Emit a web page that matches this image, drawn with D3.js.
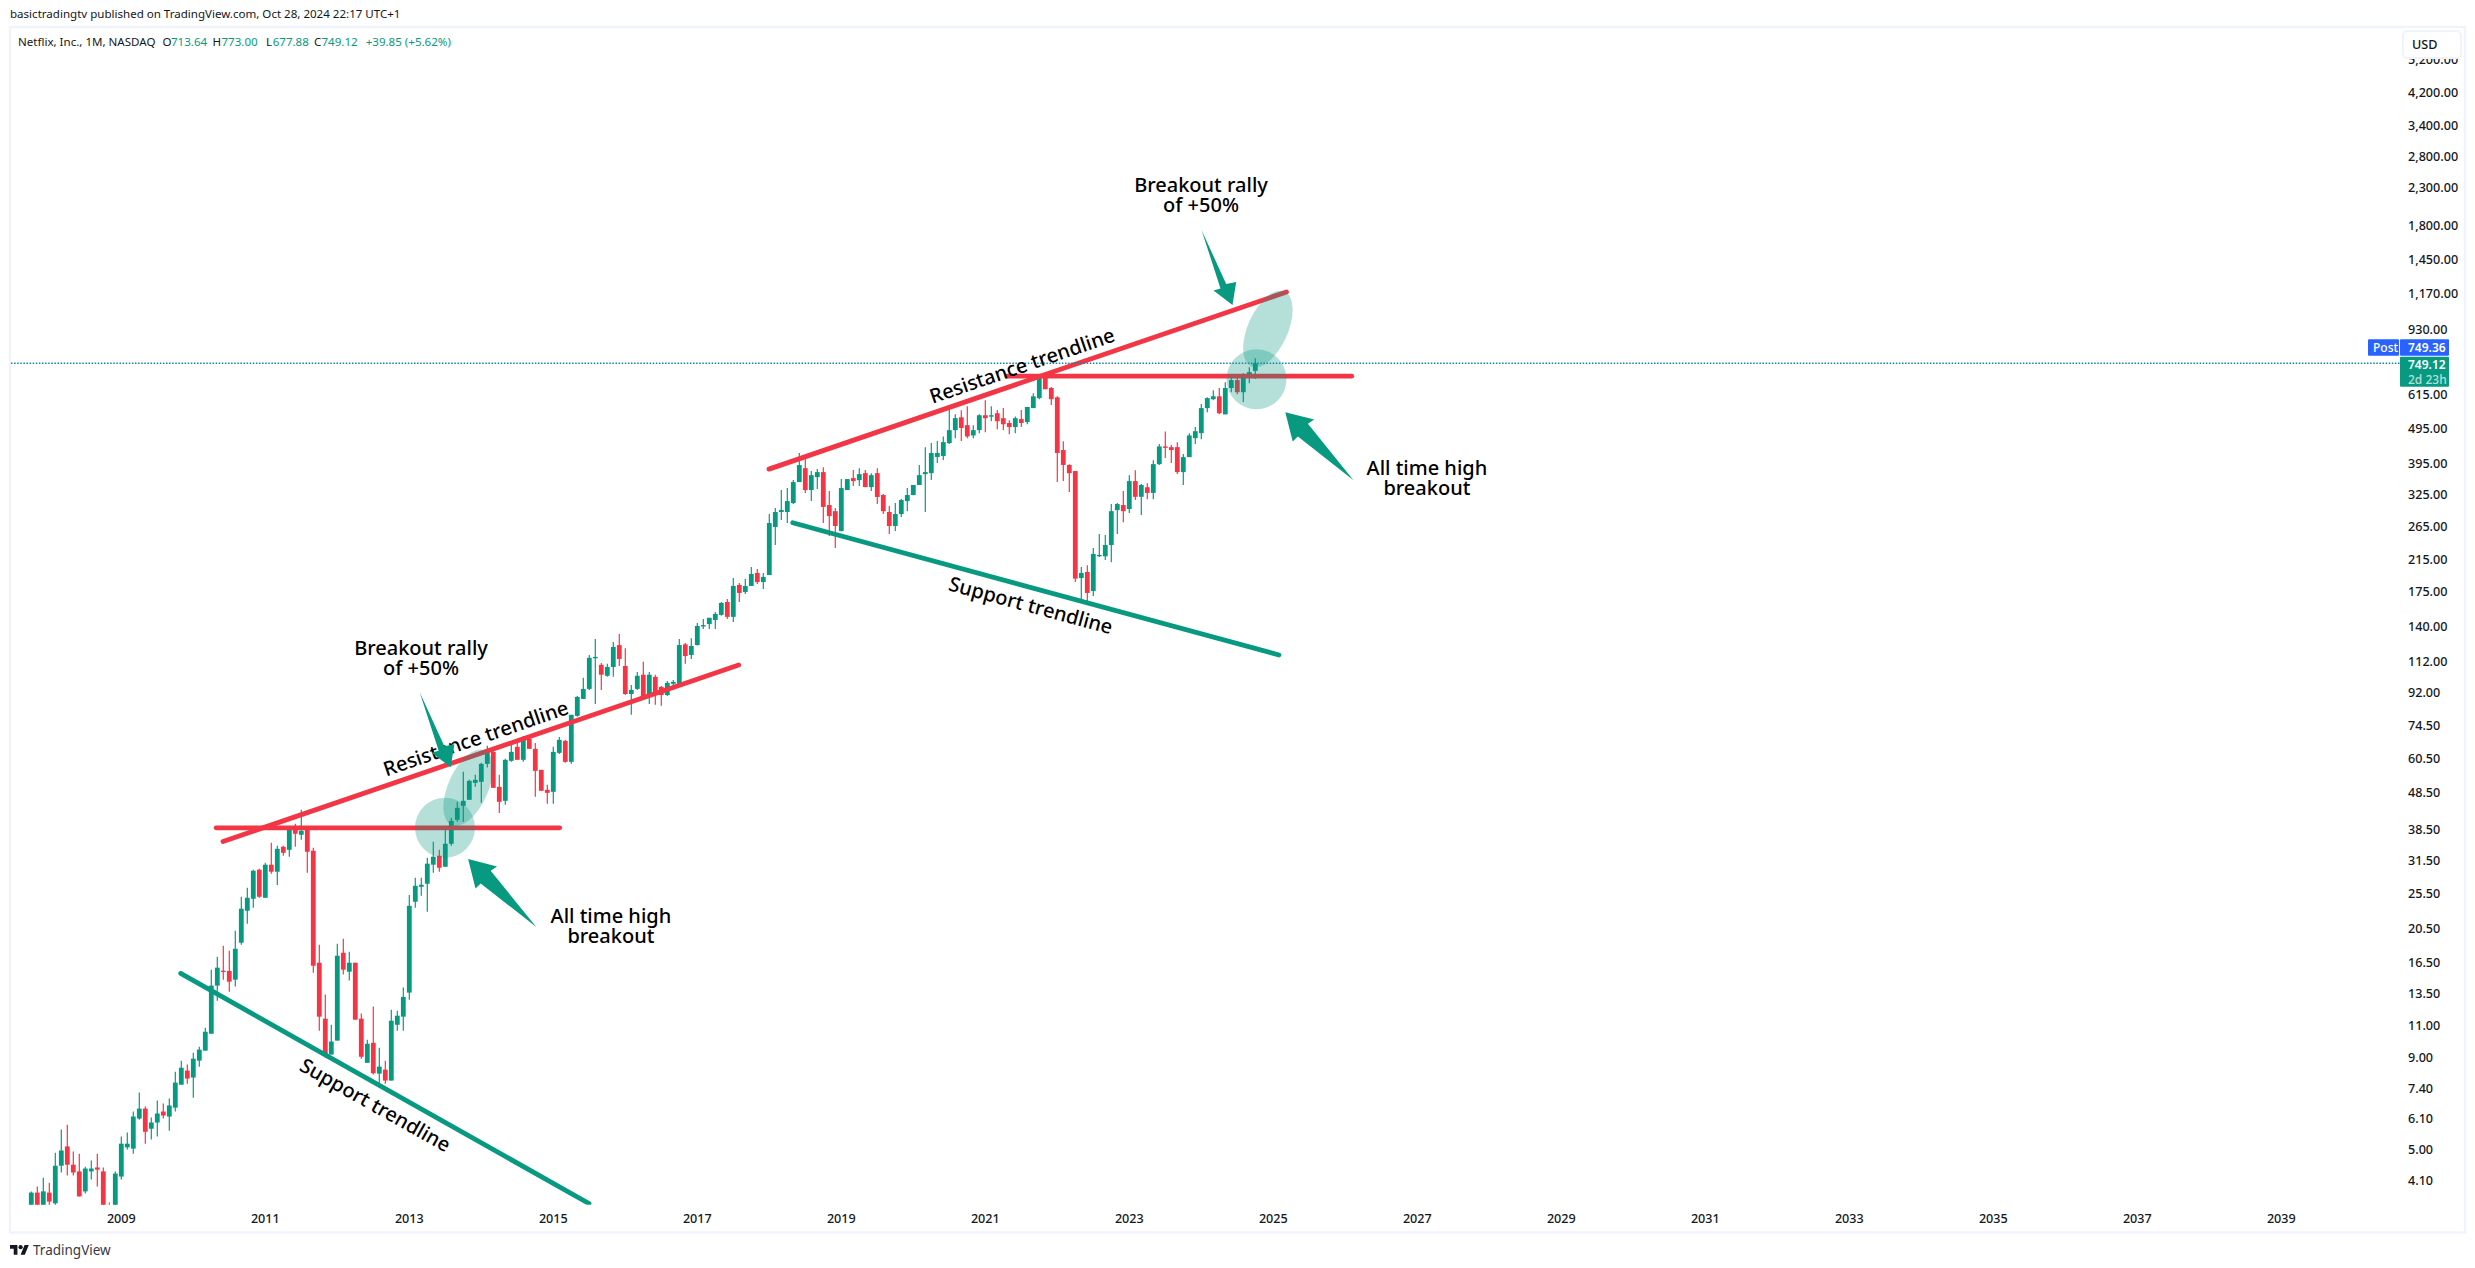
<!DOCTYPE html>
<html><head><meta charset="utf-8">
<script src="https://cdn.jsdelivr.net/npm/d3@7/dist/d3.min.js"></script>
<style>html,body{margin:0;padding:0;background:#fff;overflow:hidden}svg{display:block}text{font-family:"Noto Sans",sans-serif}</style>
</head><body><svg id="c" width="2475" height="1268"></svg>
<script>
// Monthly candles, Oct 2007 .. Oct 2024
const opens=[3.2,3.80,3.45,3.80,3.55,4.51,5.10,4.54,4.35,3.83,
4.35,4.46,4.35,3.40,3.2,4.21,5.07,5.03,6.09,6.49,
5.71,5.94,6.37,6.17,6.53,7.56,8.27,7.91,8.81,9.39,
10.46,14.21,15.63,15.6,14.76,18.68,22.89,24.71,29.73,24.87,
30.70,29.36,34.41,33.76,38.84,37.15,38.35,33.55,16.44,11.51,
9.16,10.01,17.52,15.53,16.44,11.51,8.69,9.87,8.11,8.32,
7.76,11.07,11.66,13.59,24.25,26.67,27.19,30.7,32.5,30.3,
35.08,40.87,44.67,46.42,51.72,52.05,58.37,63.0,50.42,46.12,
59.5,65.05,59.88,68.43,64.22,56.18,49.47,48.84,62.6,67.57,
59.12,79.25,88.28,94.1,114.7,109.7,102.3,108.2,124.4,108.9,
91.1,94.1,103,90.5,101.6,95.3,90.5,97.2,97.2,125,
116.8,124.4,140.4,142.2,146,150.8,163.7,148.9,182.5,174.5,
181.3,197,185.9,194.4,264,290.4,290.4,307.5,351.4,384,
334,362.7,374.5,303.6,292,257.2,334,360.5,355.9,372,
340.4,372,323.6,290.4,265.7,286.7,311.4,323.6,345,369.7,
372,412.4,415.1,450.5,489.3,530.9,505,473,489.3,538,
534,545,528,512,499,525,515,563,600,690,
640,603,431,392,377,190.7,198.2,175.6,219.6,219,
235.3,294,303.6,296,353.6,320,340,328,394,441,
439,439,374.5,412,465,480,563,596,607,541,
640,673,623,699,713.64];
const highs=[3.83,3.95,4.18,4.05,4.90,5.68,5.86,4.94,4.87,4.48,
4.66,4.87,4.46,3.57,4.35,5.43,5.57,6.37,7.19,6.58,
6.13,6.83,6.70,6.92,8.21,8.81,8.59,9.27,9.63,10.86,
15.73,17.08,18.32,17.75,20.16,25.03,26.5,29.73,29.92,31.08,
35.3,34.63,34.63,38.84,39.84,43.55,39.3,34.19,18.44,13.42,
11.07,18.56,19.16,17.64,16.44,11.89,10.07,12.43,9.57,8.81,
12.19,12.11,14.03,25.3,28.25,28.25,32.09,35.53,33.76,38.35,
41.39,45.83,55.47,52.72,54.42,58.74,65.47,63.81,54.42,60.26,
66.7,66.7,69.75,69.3,66.7,56.18,51.07,65.05,69.3,68.0,
79.76,89.96,101,116.8,129.3,111,110.4,126.9,133.6,122,
96.5,104.8,111.8,104.8,103,95.9,99,99.6,129.3,126,
130,143.2,147,148,153.6,163.7,166.9,190.7,184.7,189.5,
204.6,202,197,286.7,297.8,334,338.3,355.9,422.8,409.5,
376.9,381.7,386.5,331.8,298,358.2,358.2,379.3,384,379.3,
372,384,325.7,301.6,307.5,315.4,338.3,345,391.6,439,
450.8,456.3,470,573,541,555.8,570,505,541,592,
570,556,563,521.5,534,556,567,619,695,700,
644,607,456,394,377,204.6,207,231,252.4,250.8,
305.5,307.5,331.8,367,379,347,349,404,448,485,
445,453,420,480,499,578,603,631,640,664,
690,686,703,730,773];
const lows=[3.0,3.3,3.3,3.50,3.50,4.32,4.24,4.24,3.71,3.78,
4.13,3.95,3.1,3.0,3.0,4.13,5.00,4.87,6.05,5.19,
5.33,5.43,6.09,5.64,6.37,7.56,7.61,6.96,8.48,9.39,
10.46,12.91,14.76,13.67,14.12,18.44,21.07,23.34,24.87,24.87,
28.99,26.99,32.51,32.3,34.41,35.98,29.17,15.43,10.66,8.98,
9.16,10.01,15.25,14.67,11.44,8.92,8.69,8.06,7.56,7.61,
7.76,10.66,10.66,12.99,23.34,25.2,22.74,29.17,29.36,30.3,
34.63,40.35,40.35,46.42,50.42,45.54,57.0,50.1,42.7,44.97,
59.12,59.88,59.12,64.22,47.31,49.16,45.25,45.25,62.2,58.74,
58.37,78.75,88.28,93.49,85.5,93.49,101.6,101.6,108.9,90.5,
79.76,93.49,88.8,85.5,85,84.5,90,93.49,97.2,110.4,
113.9,124,137.8,137.8,137.8,149.9,147,144.1,163.7,172.3,
181.3,183.5,177.8,194.4,235.3,275.9,270.7,305.5,351.4,327.7,
311.4,336.1,270.7,249.2,231,257,334,342.6,342.6,340,
331.8,305.5,286.7,252.4,257.2,281.2,292,323,345,290.4,
355.9,396.7,404.3,447.9,465,456.3,465,465,480,483,
518,492,489,477,480,499,508,563,596,635,
574,351.4,353.6,329.8,186,165.8,164.7,170,218,213.9,
211,252.4,272,288.5,313.4,285,315,315,392,409.5,
397,370,345,412,448,462,548,592,541,541,
623,615,585,660,677.88];
const closes=[3.80,3.4,3.83,3.59,4.51,4.97,4.54,4.32,3.71,4.43,
4.43,4.40,3.3,3.2,4.29,5.19,5.19,6.17,6.49,5.60,
5.94,6.29,6.21,6.62,7.66,8.42,7.86,8.92,9.45,10.59,
14.21,15.93,15.53,14.57,17.97,23.19,24.87,29.54,25.03,30.70,
29.36,33.97,33.12,38.84,37.39,38.1,33.33,16.13,11.66,9.16,
9.95,17.19,15.73,16.44,11.44,9.03,9.81,8.13,8.48,7.76,
11.36,11.73,13.22,23.62,26.84,27.02,30.9,32.3,30.11,35.08,
40.6,44.1,46.12,52.38,52.72,58.37,63.81,50.1,45.83,59.88,
63.0,59.88,68.43,64.22,55.82,49.16,48.53,63.0,68.0,59.12,
79.76,89.39,94.1,114.7,115.4,103,108.2,122.9,113.9,91.1,
93.49,102.3,89.39,103,90.5,90.5,97.8,98.4,124.4,116,
123.7,140.5,141.3,148,151.7,162.7,148.9,181.3,173.4,181.3,
195.7,185.9,192.1,270.7,290.4,294.1,311.4,351.4,391.6,334,
367.3,374.5,300,283,265.7,338.3,358.2,353.6,369.7,340.4,
367.3,319.6,292,265.7,286.7,313.4,323.6,345,367.3,374.5,
423,423,453.4,489.3,528.2,496,470,489.3,538,528,
538,518,508,499,528,512,567,607,690,635,
596,423,392,372,190,197,173.4,222.3,221,235.3,
292,305.5,292,353.6,320,345,328,394,441,439,
431,374.5,412,473,486,563,600,607,545,640,
673,623,699,708,749.12];
const priceTicks=[5200,4200,3400,2800,2300,1800,1450,1170,930,615,495,395,325,265,215,175,140,112,92,74.5,60.5,48.5,38.5,31.5,25.5,20.5,16.5,13.5,11,9,7.4,6.1,5,4.1];
const yearTicks=[2009,2011,2013,2015,2017,2019,2021,2023,2025,2027,2029,2031,2033,2035,2037,2039];
const firstBarYear=2007, firstBarMonth=9;
// Drawings in chart units: [bar index, price]
const resistanceLines=[[[31.95,35.59],[117.9,109.6]],[[122.95,381.7],[209.2,1180]]];
const athLines=[[[30.8,38.84],[88.07,38.84]],[[162.6,690],[220.07,690]]];
const supportLines=[[[24.9,15.36],[92.95,3.545]],[[126.9,271.2],[207.95,116.8]]];
const circleCentres=[[68.95,38.84],[204.2,677]];
const ellipseCentres=[[72.8,50.1],[206.1,932]];
const downArrowTips=[[69.9,57.15],[200.2,1086.6]];
const upArrowTips=[[72.8,31.82],[209,548.7]];
const rallyLabels=[[64.95,122.1],[194.95,2333]];
const athLabels=[[96.6,22.2],[232.6,384.2]];
const resistanceLabels=[[74.07,68.87,-18.9],[165.1,740,-18.9]];
const supportLabels=[[57.37,6.658,29.4],[166.6,160.6,15.2]];

const UP="#089981",DOWN="#F23645",INK="#131722";
const svg=d3.select("#c");
const x=d3.scaleLinear().domain([0,204]).range([31.3,1255.3]);
const y=d3.scaleLog().domain([4200,4.1]).range([92.7,1180.7]);
const bars=opens.map((o,i)=>({i,o,h:highs[i],l:lows[i],c:closes[i]}));

svg.append("clipPath").attr("id","pane").append("rect").attr("x",10).attr("y",27).attr("width",2392).attr("height",1177.7);

// frame
svg.append("rect").attr("x",10).attr("y",27).attr("width",2455).attr("height",1205.5).attr("fill","#fff").attr("stroke","#f0f3fa").attr("stroke-width",2.4);

const pane=svg.append("g").attr("clip-path","url(#pane)");
const cg=pane.append("g");
const col=d=>d.c>=d.o?UP:DOWN;
cg.selectAll("line").data(bars).join("line")
 .attr("x1",d=>x(d.i)).attr("x2",d=>x(d.i)).attr("y1",d=>y(d.h)).attr("y2",d=>y(d.l))
 .attr("stroke",col).attr("stroke-width",1.2);
cg.selectAll("rect").data(bars).join("rect")
 .attr("x",d=>x(d.i)-2.4).attr("width",4.8)
 .attr("y",d=>Math.min(y(d.o),y(d.c))).attr("height",d=>Math.max(1.4,Math.abs(y(d.o)-y(d.c))))
 .attr("fill",col);

// last price line
const lastY=y(closes[closes.length-1]);
svg.append("line").attr("x1",11).attr("x2",2400).attr("y1",lastY).attr("y2",lastY).attr("stroke","#1183ad").attr("stroke-width",1.5).attr("stroke-dasharray","1.5 1.6");

const seg=(arr,color)=>pane.append("g").selectAll("line").data(arr).join("line")
 .attr("x1",d=>x(d[0][0])).attr("y1",d=>y(d[0][1])).attr("x2",d=>x(d[1][0])).attr("y2",d=>y(d[1][1]))
 .attr("stroke",color).attr("stroke-width",4.8).attr("stroke-linecap","round");

// rotated labels sit beneath the lines and arrows
const rot=(arr,t)=>svg.append("g").selectAll("text").data(arr).join("text")
 .attr("transform",d=>`translate(${x(d[0])},${y(d[1])}) rotate(${d[2]})`)
 .attr("text-anchor","middle").attr("dominant-baseline","central")
 .attr("font-size",20).attr("font-weight",500).attr("fill","#000").text(t);
rot(resistanceLabels,"Resistance trendline");
rot(supportLabels,"Support trendline");

seg(resistanceLines,DOWN);seg(athLines,DOWN);seg(supportLines,UP);

// highlight zones
const zone=svg.append("g").attr("fill","#089981").attr("fill-opacity",.3);
zone.selectAll("circle").data(circleCentres).join("circle").attr("cx",d=>x(d[0])).attr("cy",d=>y(d[1])).attr("r",30);
zone.selectAll("ellipse").data(ellipseCentres).join("ellipse")
 .attr("rx",20).attr("ry",41)
 .attr("transform",d=>`translate(${x(d[0])},${y(d[1])}) rotate(24)`);

// arrows (shape relative to tip)
const downShape=[[0,0],[3.7,-23],[-6.3,-21],[-31,-75],[-12,-16.5],[-19,-14.3]];
const upShape=[[0,0],[28.9,7.3],[22.6,11.7],[68.2,68],[12.6,24.3],[7.4,29.4]];
const arrows=(tips,shape)=>svg.append("g").selectAll("polygon").data(tips).join("polygon")
 .attr("points",d=>shape.map(s=>[x(d[0])+s[0],y(d[1])+s[1]].join(",")).join(" "))
 .attr("fill",UP);
arrows(downArrowTips,downShape);arrows(upArrowTips,upShape);

// two-line labels: one text element, two tspans
const two=(arr,a,b)=>{
 const t=svg.append("g").attr("text-anchor","middle").attr("font-size",20).attr("font-weight",500).attr("fill","#000")
  .selectAll("text").data(arr).join("text");
 t.append("tspan").attr("x",d=>x(d[0])).attr("y",d=>y(d[1])+7).text(a);
 t.append("tspan").attr("x",d=>x(d[0])).attr("y",d=>y(d[1])+27).text(b);};
two(rallyLabels,"Breakout rally","of +50%");
two(athLabels,"All time high","breakout");

// price axis labels
const fmt=d3.format(",.2f");
svg.append("g").attr("font-size",12.6).attr("font-weight",500).attr("fill",INK).selectAll("text").data(priceTicks).join("text")
 .attr("x",2408).attr("y",d=>y(d)).attr("dominant-baseline","central").text(fmt);
// time axis labels: uniform bars, one per month
const barOf=yr=>(yr-firstBarYear)*12-firstBarMonth;
svg.append("g").attr("font-size",12.6).attr("font-weight",500).attr("fill",INK).attr("text-anchor","middle").selectAll("text").data(yearTicks).join("text")
 .attr("x",d=>x(barOf(d))).attr("y",1218).attr("dominant-baseline","central").text(d=>d);

// USD box
svg.append("rect").attr("x",2403).attr("y",31).attr("width",58).attr("height",27).attr("rx",4).attr("fill","#fff").attr("stroke","#f0f3fa").attr("stroke-width",2);
svg.append("text").attr("x",2412).attr("y",44.5).attr("font-size",12.6).attr("font-weight",500).attr("fill",INK).attr("dominant-baseline","central").text("USD");

// price tags
const tag=(xx,yy,w,h,f)=>svg.append("rect").attr("x",xx).attr("y",yy).attr("width",w).attr("height",h).attr("rx",1).attr("fill",f);
tag(2368,339.3,31,16.4,"#2962ff");tag(2400,339.3,49,16.4,"#2962ff");tag(2400,356.7,49,30,UP);
const tagText=(xx,yy,t,f,w,s)=>svg.append("text").attr("x",xx).attr("y",yy).attr("font-size",s).attr("font-weight",w).attr("fill",f).attr("dominant-baseline","central").text(t);
tagText(2373,347.5,"Post","#fff",500,12);
tagText(2408,347.5,"749.36","#fff",600,12);
tagText(2408,364.5,"749.12","#fff",600,12);
tagText(2408,379,"2d 23h","#b5e0d9",500,12);

// header
svg.append("text").attr("x",10).attr("y",18).attr("font-size",11.55).attr("fill",INK).text("basictradingtv published on TradingView.com, Oct 28, 2024 22:17 UTC+1");
const legendParts=[[18,"Netflix, Inc., 1M, NASDAQ",INK],[162.5,"O",INK],[171,"713.64",UP],[212.5,"H",INK],[221.5,"773.00",UP],[266,"L",INK],[272.7,"677.88",UP],[314,"C",INK],[321.5,"749.12",UP],[365.7,"+39.85 (+5.62%)",UP]];
const lg=svg.append("text").attr("y",46).attr("font-size",11.55);
lg.selectAll("tspan").data(legendParts).join("tspan").attr("x",d=>d[0]).attr("fill",d=>d[2]).text(d=>d[1]);

// footer logo
const logo=svg.append("g").attr("transform","translate(10,1243) scale(.53)").attr("fill","#131722");
logo.append("path").attr("d","M14 22H7V11H0V4h14v18zM28 22h-8l7.5-18h8L28 22z");
logo.append("circle").attr("cx",20).attr("cy",8).attr("r",4);
svg.append("text").attr("x",33).attr("y",1255).attr("font-size",13.5).attr("fill","#363a45").text("TradingView");
</script></body></html>
